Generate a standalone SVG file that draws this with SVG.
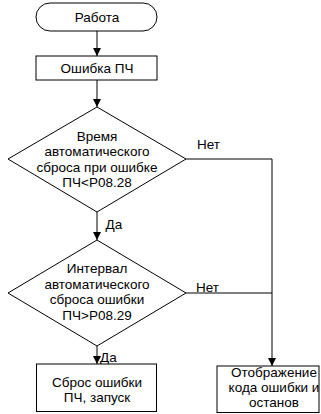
<svg xmlns="http://www.w3.org/2000/svg" width="321" height="414" viewBox="0 0 321 414">
<defs>
<marker id="ah" viewBox="0 0 10 10" refX="10" refY="5" markerWidth="8" markerHeight="8" markerUnits="userSpaceOnUse" orient="auto"><path d="M0,0 L10,5 L0,10 z" fill="#000"/></marker>
<style>
.s{fill:#fff;stroke:#000;stroke-width:1}
.t{font-family:"Liberation Sans",Arial,sans-serif;font-size:13.5px;fill:#000;text-anchor:middle}
.l{font-family:"Liberation Sans",Arial,sans-serif;font-size:13.5px;fill:#000}
.c{fill:none;stroke:#000;stroke-width:1}
</style>
</defs>
<rect width="321" height="414" fill="#fff"/>
<g id="connectors">
<path class="c" d="M97,31 V56" marker-end="url(#ah)"/>
<path class="c" d="M97,80 V107" marker-end="url(#ah)"/>
<path class="c" d="M97,212 V240" marker-end="url(#ah)"/>
<path class="c" d="M97,346 V364" marker-end="url(#ah)"/>
<path class="c" d="M186,159 H272 V366" marker-end="url(#ah)"/>
<path class="c" d="M186,293 H272"/>
<text class="l" x="197" y="149">Нет</text>
<text class="l" x="196" y="292">Нет</text>
<text class="l" x="105.5" y="229">Да</text>
<text class="l" x="100" y="361.5">Да</text>
</g>
<g id="start">
<rect class="s" x="36" y="3" width="121" height="28" rx="14"/>
<text class="t" x="97" y="22">Работа</text>
</g>
<g id="error">
<rect class="s" x="36" y="56" width="121" height="24"/>
<text class="t" x="97" y="72.5">Ошибка ПЧ</text>
</g>
<g id="decision1">
<polygon class="s" points="97,107 186,159 97,212 8,159"/>
<text class="t" x="97" y="140.5">Время</text>
<text class="t" x="97" y="156">автоматического</text>
<text class="t" x="97" y="171.5">сброса при ошибке</text>
<text class="t" x="97" y="187">ПЧ&lt;P08.28</text>
</g>
<g id="decision2">
<polygon class="s" points="97,240 186,293 97,346 8,293"/>
<text class="t" x="97" y="273">Интервал</text>
<text class="t" x="97" y="288.5">автоматического</text>
<text class="t" x="97" y="304">сброса ошибки</text>
<text class="t" x="97" y="320">ПЧ&gt;P08.29</text>
</g>
<g id="reset">
<rect class="s" x="36.5" y="364" width="120" height="47.5"/>
<text class="t" x="97" y="386.5">Сброс ошибки</text>
<text class="t" x="97" y="401.5">ПЧ, запуск</text>
</g>
<g id="display">
<rect class="s" x="217" y="366" width="102" height="46.5"/>
<text class="t" x="274" y="377">Отображение</text>
<text class="t" x="274" y="392">кода ошибки и</text>
<text class="t" x="274" y="407">останов</text>
</g>
</svg>
